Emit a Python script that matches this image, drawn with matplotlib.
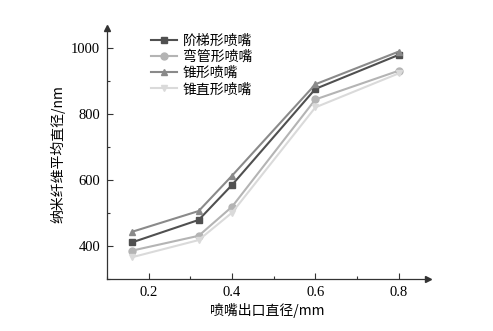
import matplotlib.pyplot as plt
from matplotlib.ticker import MultipleLocator

# -------------- Data --------------
diameter = [0.16, 0.32, 0.4, 0.6, 0.8]
step_nozzle = [411, 479, 585, 876, 979]
bent_nozzle = [386, 431, 519, 844, 931]
cone_nozzle = [443, 506, 613, 890, 989]
cone_straight = [366, 418, 501, 820, 923]
labels = ['阶梯形喷嘴', '弯管形喷嘴', '锥形喷嘴', '锥直形喷嘴']

cn_font = ['Noto Sans CJK SC', 'DejaVu Sans']
num_font = 'Liberation Serif'

fig = plt.figure(figsize=(4.93, 3.31), dpi=100)
ax = fig.add_axes([0.217, 0.157, 0.651, 0.758])

ax.plot(diameter, step_nozzle, color='#505050', marker='s', ms=5, lw=1.5, label=labels[0])
ax.plot(diameter, bent_nozzle, color='#b4b4b4', marker='o', ms=5, lw=1.5, label=labels[1])
ax.plot(diameter, cone_nozzle, color='#8a8a8a', marker='^', ms=5, lw=1.5, label=labels[2])
ax.plot(diameter, cone_straight, color='#dadada', marker='v', ms=5, lw=1.5, label=labels[3])

ax.set_xlim(0.1, 0.87)
ax.set_ylim(300, 1060)
ax.xaxis.set_minor_locator(MultipleLocator(0.1))
ax.yaxis.set_minor_locator(MultipleLocator(100))
ax.set_xticks([0.2, 0.4, 0.6, 0.8])
ax.set_xticklabels(['0.2', '0.4', '0.6', '0.8'])
ax.set_yticks([400, 600, 800, 1000])
ax.tick_params(which='both', direction='in', color='#333333', width=0.8)
ax.tick_params(which='major', length=4, labelsize=10.5, pad=5)
ax.tick_params(which='minor', length=2.5)
for lab in ax.get_xticklabels() + ax.get_yticklabels():
    lab.set_fontfamily(num_font)

for side in ['top', 'right']:
    ax.spines[side].set_visible(False)
for side in ['left', 'bottom']:
    ax.spines[side].set_color('#333333')
    ax.spines[side].set_linewidth(0.9)

# axis arrows
ax.plot(1, 0, '>', color='#333333', ms=5, transform=ax.transAxes, clip_on=False)
ax.plot(0, 1, '^', color='#333333', ms=5, transform=ax.transAxes, clip_on=False)

ax.set_xlabel('喷嘴出口直径/mm', family=cn_font, fontsize=10, labelpad=3)
ax.set_ylabel('纳米纤维平均直径/nm', family=cn_font, fontsize=10, labelpad=4)

leg = ax.legend(loc='upper left', bbox_to_anchor=(0.11, 1.01), frameon=False,
                prop={'family': cn_font, 'size': 10}, handlelength=1.9,
                labelspacing=0.15, handletextpad=0.4, borderaxespad=0.2)

fig.savefig('out.png', dpi=100)
